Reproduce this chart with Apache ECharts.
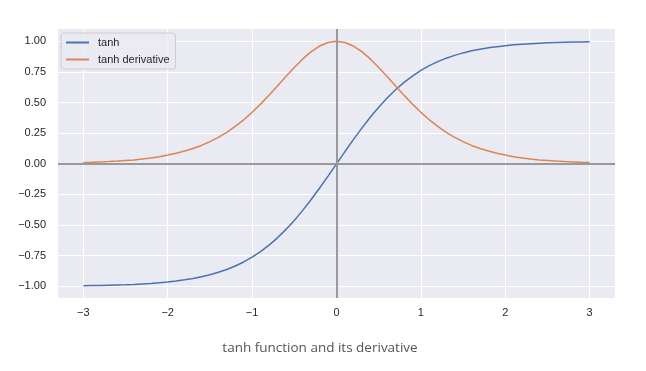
<!DOCTYPE html>
<html>
<head>
<meta charset="utf-8">
<script src="https://cdn.jsdelivr.net/npm/echarts@6/dist/echarts.min.js"></script>
<style>
html, body { margin: 0; padding: 0; background: #fff; }
#chart { width: 646px; height: 371px; }
</style>
</head>
<body>
<div id="chart"></div>
<script>
// x 坐标
var xs = [-3.0, -2.9, -2.8, -2.7, -2.6, -2.5, -2.4, -2.3, -2.2, -2.1,
	-2.0, -1.9, -1.8, -1.7, -1.6, -1.5, -1.4, -1.3, -1.2, -1.1,
	-1.0, -0.9, -0.8, -0.7, -0.6, -0.5, -0.4, -0.3, -0.2, -0.1,
	0.0, 0.1, 0.2, 0.3, 0.4, 0.5, 0.6, 0.7, 0.8, 0.9,
	1.0, 1.1, 1.2, 1.3, 1.4, 1.5, 1.6, 1.7, 1.8, 1.9,
	2.0, 2.1, 2.2, 2.3, 2.4, 2.5, 2.6, 2.7, 2.8, 2.9, 3.0];

var tanhVals = [-0.995, -0.994, -0.993, -0.991, -0.989, -0.987, -0.984, -0.980, -0.976, -0.971,
	-0.964, -0.956, -0.947, -0.935, -0.922, -0.905, -0.885, -0.862, -0.834, -0.801,
	-0.762, -0.716, -0.664, -0.604, -0.537, -0.462, -0.380, -0.291, -0.197, -0.100,
	0.000, 0.100, 0.197, 0.291, 0.380, 0.462, 0.537, 0.604, 0.664, 0.716,
	0.762, 0.801, 0.834, 0.862, 0.885, 0.905, 0.922, 0.935, 0.947, 0.956,
	0.964, 0.971, 0.976, 0.980, 0.984, 0.987, 0.989, 0.991, 0.993, 0.994, 0.995];

var derivVals = [0.010, 0.012, 0.015, 0.018, 0.022, 0.027, 0.032, 0.039, 0.048, 0.058,
	0.071, 0.086, 0.104, 0.125, 0.150, 0.181, 0.216, 0.257, 0.305, 0.359,
	0.420, 0.487, 0.559, 0.635, 0.712, 0.786, 0.856, 0.915, 0.961, 0.990,
	1.000, 0.990, 0.961, 0.915, 0.856, 0.786, 0.712, 0.635, 0.559, 0.487,
	0.420, 0.359, 0.305, 0.257, 0.216, 0.181, 0.150, 0.125, 0.104, 0.086,
	0.071, 0.058, 0.048, 0.039, 0.032, 0.027, 0.022, 0.018, 0.015, 0.012, 0.010];

// 刻度
var xTicks = [-3, -2, -1, 0, 1, 2, 3];
var yTicks = [-1.0, -0.75, -0.5, -0.25, 0.0, 0.25, 0.5, 0.75, 1.0];

var seriesNames = ['tanh', 'tanh derivative'];
var titleText = 'tanh function and its derivative';

function pairs (ys) {
	var out = [];
	for (var i = 0; i < xs.length; i++) {
		out.push([xs[i], ys[i]]);
	}
	return out;
}

function minus (s) {
	return String(s).replace('-', '\u2212');
}

var cc = echarts.init(document.getElementById('chart'));

var op = {
	backgroundColor: '#fff',
	animation: false,
	title: {
		text: titleText,
		left: 315,
		textAlign: 'center',
		top: 336,
		textStyle: {
			fontFamily: 'Open Sans',
			fontWeight: 'normal',
			fontSize: 13.5,
			color: '#555'
		}
	},
	grid: {
		left: 58,
		right: 31,
		top: 29,
		bottom: 73,
		show: true,
		backgroundColor: '#eaeaf2',
		borderWidth: 0
	},
	legend: {
		orient: 'vertical',
		left: 61,
		top: 33,
		itemWidth: 23,
		itemHeight: 2,
		itemGap: 6,
		padding: [4, 6, 4, 4],
		borderColor: '#cccccc',
		borderWidth: 1,
		borderRadius: 3,
		backgroundColor: 'rgba(234,234,242,0.8)',
		textStyle: { fontFamily: 'Liberation Sans', fontSize: 11, color: '#262626', padding: [0, 0, 0, 4] },
		data: seriesNames
	},
	xAxis: {
		type: 'value',
		min: -3.3,
		max: 3.3,
		axisLine: { show: false },
		axisTick: { show: false, customValues: xTicks },
		axisLabel: {
			customValues: xTicks,
			margin: 9,
			fontFamily: 'Liberation Sans',
			fontSize: 11,
			color: '#262626',
			formatter: function (v) { return minus(Math.round(v)); }
		},
		splitLine: { customValues: xTicks, lineStyle: { color: '#fff', width: 1 } }
	},
	yAxis: {
		type: 'value',
		min: -1.095,
		max: 1.1,
		axisLine: { show: false },
		axisTick: { show: false, customValues: yTicks },
		axisLabel: {
			customValues: yTicks,
			margin: 12,
			fontFamily: 'Liberation Sans',
			fontSize: 11,
			color: '#262626',
			formatter: function (v) { return minus(v.toFixed(2)); }
		},
		splitLine: { customValues: yTicks, lineStyle: { color: '#fff', width: 1 } }
	},
	series: [
		{
			name: seriesNames[0],
			type: 'line',
			symbol: 'none',
			data: pairs(tanhVals),
			lineStyle: { color: '#4c72b0', width: 1.5 },
			itemStyle: { color: '#4c72b0' },
			z: 3
		},
		{
			name: seriesNames[1],
			type: 'line',
			symbol: 'none',
			data: pairs(derivVals),
			lineStyle: { color: '#dd8452', width: 1.5 },
			itemStyle: { color: '#dd8452' },
			z: 3,
			markLine: {	// 零线
				silent: true,
				symbol: 'none',
				label: { show: false },
				lineStyle: { color: '#999', width: 2, type: 'solid' },
				data: [{ xAxis: 0 }, { yAxis: 0 }]
			}
		}
	]
};

cc.setOption(op);
</script>
</body>
</html>
